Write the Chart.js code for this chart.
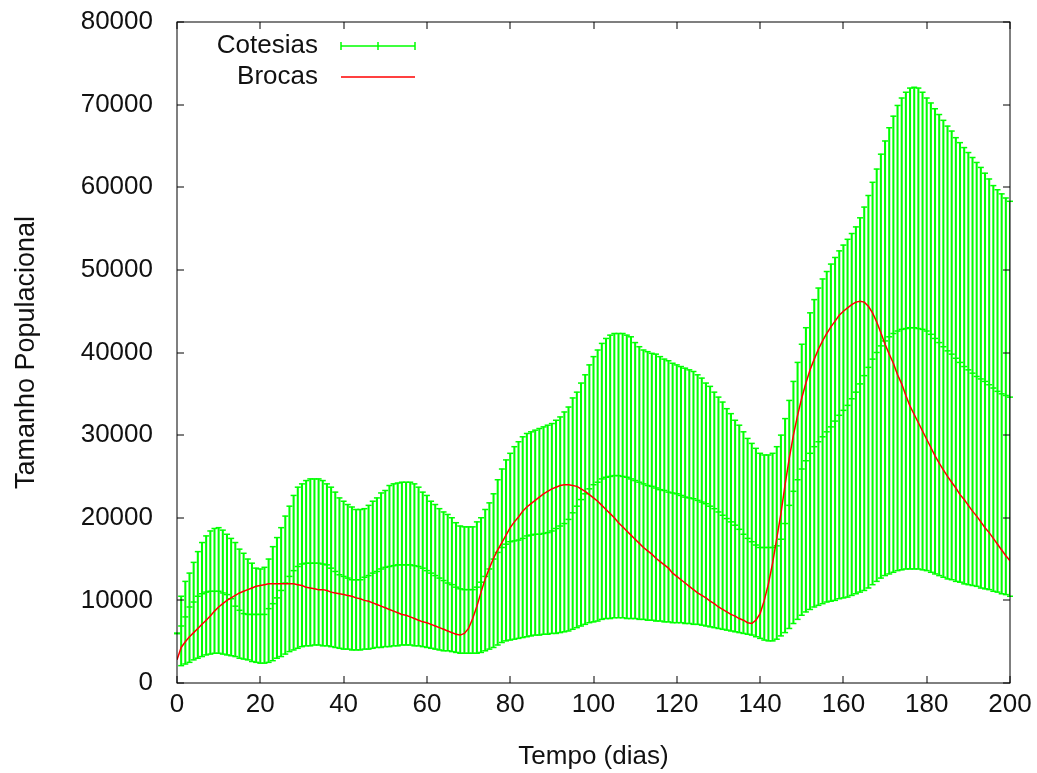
<!DOCTYPE html>
<html>
<head>
<meta charset="utf-8">
<script src="https://cdn.jsdelivr.net/npm/chart.js@4.4.1/dist/chart.umd.min.js"></script>
<style>
  html, body { margin: 0; padding: 0; background: #ffffff; }
  #c { display: block; }
</style>
</head>
<body>
<canvas id="c" width="1037" height="773"></canvas>
<script>
// ---- DATA (values in thousands of individuals, one entry per day 0..200) ----
const days = Array.from({ length: 201 }, (_, i) => i);

const yTicks = [0, 10000, 20000, 30000, 40000, 50000, 60000, 70000, 80000];
const xTicks = [0, 20, 40, 60, 80, 100, 120, 140, 160, 180, 200];

const cotesiasUpper = [
  6.0,
  10.5, 12.3, 13.3, 14.6, 15.9, 17.0, 17.8, 18.4, 18.7, 18.8,
  18.5, 18.0, 17.5, 17.0, 16.2, 15.7, 15.0, 14.5, 13.9, 13.8,
  14.0, 15.0, 16.5, 17.6, 18.8, 20.2, 21.4, 22.7, 23.7, 24.1,
  24.5, 24.7, 24.7, 24.7, 24.5, 24.1, 23.7, 23.1, 22.4, 22.0,
  21.6, 21.3, 21.0, 21.0, 21.1, 21.5, 22.0, 22.4, 23.0, 23.3,
  23.9, 24.1, 24.2, 24.3, 24.3, 24.3, 24.1, 23.7, 23.1, 22.7,
  22.0, 21.6, 21.1, 20.7, 20.4, 20.0, 19.4, 19.0, 18.9, 18.9,
  18.9, 19.5, 20.0, 21.0, 21.8, 22.9, 24.6, 25.9, 27.0, 27.8,
  28.6, 29.2, 29.8, 30.2, 30.4, 30.6, 30.8, 31.0, 31.2, 31.4,
  31.8, 32.2, 32.8, 33.4, 34.5, 35.2, 36.3, 37.3, 38.5, 39.5,
  40.3, 41.1, 41.7, 42.1, 42.3, 42.3, 42.3, 42.1, 41.9, 41.2,
  40.7, 40.3, 40.1, 39.9, 39.8, 39.5, 39.2, 39.0, 38.7, 38.5,
  38.3, 38.1, 37.9, 37.7, 37.3, 36.9, 36.3, 35.9, 35.2, 34.6,
  34.0, 33.2, 32.6, 31.8, 31.2, 30.4, 29.6, 29.0, 28.4, 27.8,
  27.6, 27.6, 27.8, 28.6, 30.0, 32.0, 34.2, 36.5, 38.8, 41.0,
  43.0, 44.8, 46.4, 47.8, 48.9, 49.8, 50.7, 51.5, 52.3, 53.0,
  53.7, 54.4, 55.2, 56.3, 57.6, 59.0, 60.6, 62.2, 64.0, 65.6,
  67.2, 68.6, 69.9, 70.8, 71.5, 72.0, 72.1, 72.0, 71.5, 70.8,
  70.2, 69.5, 68.8, 68.1, 67.4, 66.8, 66.0, 65.4, 64.8, 64.2,
  63.6, 63.0, 62.4, 61.7, 61.0, 60.2, 59.7, 59.2, 58.7, 58.3
];

const cotesiasMean = [
  6.0,
  6.9, 8.0, 9.2, 9.8, 10.5, 10.8, 11.0, 11.1, 11.1, 11.1,
  10.9, 10.7, 10.2, 9.3, 8.8, 8.4, 8.3, 8.3, 8.3, 8.3,
  8.3, 9.0, 9.6, 10.3, 11.2, 12.1, 12.9, 13.6, 14.1, 14.4,
  14.5, 14.5, 14.5, 14.5, 14.4, 14.3, 13.9, 13.5, 13.1, 12.9,
  12.7, 12.5, 12.5, 12.5, 12.8, 13.0, 13.3, 13.5, 13.8, 14.0,
  14.1, 14.2, 14.3, 14.3, 14.3, 14.3, 14.2, 14.1, 13.9, 13.6,
  13.3, 13.0, 12.7, 12.4, 12.1, 11.9, 11.6, 11.4, 11.3, 11.3,
  11.3, 11.6, 12.2, 12.9, 13.8, 15.0, 15.8, 16.4, 16.8, 17.1,
  17.2, 17.3, 17.5, 17.8, 17.9, 18.0, 18.0, 18.1, 18.2, 18.4,
  18.7, 19.0, 19.3, 19.8, 20.6, 21.4, 22.2, 22.9, 23.5, 24.0,
  24.3, 24.7, 24.9, 25.0, 25.1, 25.1, 25.0, 24.9, 24.7, 24.5,
  24.3, 24.1, 23.9, 23.8, 23.6, 23.4, 23.3, 23.1, 23.0, 22.9,
  22.7, 22.5, 22.4, 22.3, 22.1, 21.9, 21.7, 21.4, 21.1, 20.7,
  20.3, 19.9, 19.5, 19.1, 18.6, 18.0, 17.5, 17.1, 16.7, 16.4,
  16.4, 16.4, 16.4, 16.6, 17.4, 19.3, 21.5, 23.2, 24.6, 25.9,
  26.9, 27.8, 28.6, 29.2, 29.8, 30.4, 31.0, 31.7, 32.4, 33.0,
  33.6, 34.4, 35.2, 36.2, 37.2, 38.2, 39.2, 40.0, 40.8, 41.4,
  41.9, 42.3, 42.6, 42.8, 42.9, 43.0, 43.0, 42.9, 42.8, 42.6,
  42.2, 41.7, 41.2, 40.7, 40.2, 39.8, 39.3, 38.8, 38.3, 37.9,
  37.5, 37.1, 36.8, 36.5, 36.1, 35.7, 35.3, 35.0, 34.8, 34.6
];

const cotesiasLower = [
  6.0,
  2.1, 2.3, 2.5, 2.8, 3.0, 3.2, 3.4, 3.5, 3.6, 3.6,
  3.5, 3.4, 3.3, 3.2, 3.0, 2.9, 2.8, 2.6, 2.5, 2.4,
  2.4, 2.5, 2.7, 3.0, 3.2, 3.5, 3.8, 4.0, 4.2, 4.4,
  4.5, 4.5, 4.6, 4.6, 4.5, 4.5, 4.4, 4.3, 4.2, 4.1,
  4.1, 4.0, 4.0, 4.0, 4.1, 4.1, 4.2, 4.3, 4.3, 4.4,
  4.4, 4.5, 4.5, 4.6, 4.6, 4.6, 4.5, 4.5, 4.4, 4.3,
  4.2, 4.1, 4.0, 3.9, 3.9, 3.8, 3.7, 3.6, 3.6, 3.6,
  3.6, 3.6, 3.7, 3.9, 4.1, 4.3, 4.6, 4.9, 5.1, 5.2,
  5.3, 5.4, 5.5, 5.6, 5.7, 5.8, 5.8, 5.9, 5.9, 6.0,
  6.0, 6.1, 6.2, 6.3, 6.5, 6.7, 6.9, 7.1, 7.3, 7.4,
  7.5, 7.7, 7.8, 7.8, 7.9, 7.9, 7.9, 7.8, 7.8, 7.8,
  7.7, 7.7, 7.6, 7.6, 7.5, 7.5, 7.4, 7.4, 7.3, 7.3,
  7.3, 7.2, 7.2, 7.1, 7.1, 7.0, 6.9, 6.8, 6.7, 6.6,
  6.5, 6.4, 6.3, 6.2, 6.1, 6.0, 5.9, 5.8, 5.6, 5.4,
  5.2, 5.1, 5.1, 5.3, 5.7, 6.1, 6.6, 7.2, 7.7, 8.2,
  8.6, 8.9, 9.2, 9.4, 9.6, 9.8, 9.9, 10.0, 10.2, 10.3,
  10.4, 10.6, 10.8, 11.0, 11.2, 11.5, 11.9, 12.3, 12.7, 13.0,
  13.2, 13.4, 13.6, 13.7, 13.8, 13.8, 13.8, 13.8, 13.7, 13.6,
  13.4, 13.2, 13.0, 12.8, 12.6, 12.5, 12.3, 12.2, 12.0, 11.9,
  11.8, 11.7, 11.5, 11.4, 11.3, 11.1, 11.0, 10.8, 10.7, 10.5
];

const brocas = [
  2.8,
  4.3, 5.0, 5.6, 6.1, 6.6, 7.1, 7.6, 8.1, 8.7, 9.2,
  9.6, 10.0, 10.3, 10.6, 10.9, 11.1, 11.3, 11.5, 11.7, 11.8,
  11.9, 12.0, 12.0, 12.0, 12.0, 12.0, 12.0, 12.0, 11.9, 11.8,
  11.6, 11.5, 11.4, 11.3, 11.3, 11.2, 11.0, 10.9, 10.8, 10.7,
  10.6, 10.5, 10.3, 10.2, 10.0, 9.9, 9.7, 9.5, 9.3, 9.1,
  8.9, 8.7, 8.5, 8.3, 8.2, 8.0, 7.8, 7.6, 7.4, 7.3,
  7.1, 6.9, 6.7, 6.5, 6.3, 6.1, 5.9, 5.8, 6.0, 6.6,
  7.8, 9.3, 11.0, 12.6, 13.9, 15.1, 16.1, 17.0, 17.9, 18.8,
  19.5, 20.1, 20.8, 21.3, 21.7, 22.1, 22.5, 22.9, 23.2, 23.5,
  23.7, 23.9, 24.0, 24.0, 23.9, 23.8, 23.5, 23.2, 22.8, 22.4,
  22.0, 21.5, 21.0, 20.5, 20.0, 19.4, 18.9, 18.4, 17.9, 17.4,
  16.9, 16.4, 16.0, 15.6, 15.1, 14.7, 14.3, 13.9, 13.3, 12.9,
  12.5, 12.1, 11.7, 11.3, 10.9, 10.6, 10.3, 9.9, 9.6, 9.2,
  8.9, 8.6, 8.3, 8.1, 7.8, 7.6, 7.3, 7.2, 7.6, 8.4,
  10.0, 12.0, 14.5, 17.5, 20.5, 24.0, 27.2, 30.0, 32.4, 34.5,
  36.3, 37.9, 39.2, 40.4, 41.4, 42.3, 43.1, 43.8, 44.5, 45.0,
  45.4, 45.8, 46.1, 46.2, 46.1, 45.6, 44.8, 43.7, 42.4, 41.0,
  39.8, 38.7, 37.3, 36.2, 34.8, 33.5, 32.5, 31.5, 30.5, 29.5,
  28.5, 27.5, 26.6, 25.8, 25.0, 24.3, 23.6, 22.8, 22.2, 21.5,
  20.8, 20.2, 19.5, 18.8, 18.2, 17.5, 16.8, 16.1, 15.4, 14.8
];

const seriesNames = ['Cotesias', 'Brocas'];
const UNIT = 1000;

// ---- STYLE ----
const GREEN = '#00ff00';
const RED = '#ff0000';
const FONT = "'Liberation Sans', Arial, Helvetica, sans-serif";
const FS = 26;
const TICK = 7;

const pts = arr => arr.map((v, i) => ({ x: days[i], y: v * UNIT }));

const framePlugin = {
  id: 'frame',
  afterDatasetsDraw(chart) {
    const { ctx, chartArea: a, scales: { x, y } } = chart;
    ctx.save();
    ctx.strokeStyle = '#000';
    ctx.lineWidth = 1;
    ctx.strokeRect(Math.round(a.left), Math.round(a.top), Math.round(a.right - a.left), Math.round(a.bottom - a.top));
    ctx.beginPath();
    xTicks.forEach(v => {
      const px = Math.round(x.getPixelForValue(v));
      ctx.moveTo(px, a.bottom); ctx.lineTo(px, a.bottom - TICK);
      ctx.moveTo(px, a.top); ctx.lineTo(px, a.top + TICK);
    });
    yTicks.forEach(v => {
      const py = Math.round(y.getPixelForValue(v));
      ctx.moveTo(a.left, py); ctx.lineTo(a.left + TICK, py);
      ctx.moveTo(a.right, py); ctx.lineTo(a.right - TICK, py);
    });
    ctx.stroke();

    // key
    const textRight = 318, sx0 = 341, sx1 = 415;
    const y1 = 46, y2 = 77;
    ctx.font = FS + 'px ' + FONT;
    ctx.fillStyle = '#111';
    ctx.textAlign = 'right';
    ctx.textBaseline = 'middle';
    ctx.fillText(seriesNames[0], textRight, y1);
    ctx.fillText(seriesNames[1], textRight, y2);

    ctx.strokeStyle = GREEN;
    ctx.lineWidth = 1.5;
    ctx.beginPath();
    ctx.moveTo(sx0, y1); ctx.lineTo(sx1, y1);
    [sx0, (sx0 + sx1) / 2, sx1].forEach(px => { ctx.moveTo(px, y1 - 4); ctx.lineTo(px, y1 + 4); });
    ctx.stroke();

    ctx.strokeStyle = RED;
    ctx.lineWidth = 1.5;
    ctx.beginPath();
    ctx.moveTo(sx0, y2); ctx.lineTo(sx1, y2);
    ctx.stroke();
    ctx.restore();
  }
};

const capStyle = {
  type: 'scatter',
  pointStyle: 'line',
  pointRadius: 3,
  pointHoverRadius: 3,
  pointBorderWidth: 1.5,
  pointBorderColor: GREEN,
  pointBackgroundColor: GREEN,
  showLine: false,
  clip: false,
  order: 2
};

new Chart(document.getElementById('c'), {
  type: 'scatter',
  data: {
    datasets: [
      {
        type: 'line',
        label: seriesNames[1],
        data: pts(brocas),
        borderColor: RED,
        borderWidth: 1.5,
        pointRadius: 0,
        tension: 0,
        fill: false,
        order: 0
      },
      {
        type: 'bar',
        label: seriesNames[0],
        data: days.map((d, i) => ({ x: d, y: [cotesiasLower[i] * UNIT, cotesiasUpper[i] * UNIT] })),
        backgroundColor: GREEN,
        borderWidth: 0,
        barThickness: 1.4,
        grouped: false,
        order: 3
      },
      Object.assign({ label: 'upper', data: pts(cotesiasUpper) }, capStyle),
      Object.assign({ label: 'lower', data: pts(cotesiasLower) }, capStyle),
      Object.assign({ label: 'mean', data: pts(cotesiasMean) }, capStyle)
    ]
  },
  options: {
    responsive: false,
    devicePixelRatio: 1,
    animation: false,
    events: [],
    layout: { padding: { left: 0, right: 27, top: 22, bottom: 0 } },
    plugins: { legend: { display: false }, tooltip: { enabled: false } },
    scales: {
      x: {
        type: 'linear',
        min: 0, max: 200,
        offset: false,
        afterFit: s => { s.height = 90; s.paddingLeft = 0; s.paddingRight = 0; },
        afterBuildTicks: s => { s.ticks = xTicks.map(v => ({ value: v })); },
        grid: { display: false, drawTicks: false, offset: false },
        border: { display: false },
        ticks: { color: '#111', font: { family: FONT, size: FS }, padding: 6, maxRotation: 0, autoSkip: false },
        title: { display: true, text: 'Tempo (dias)', color: '#111', font: { family: FONT, size: FS }, padding: { top: 0, bottom: 1 } }
      },
      y: {
        type: 'linear',
        min: 0, max: 80000,
        afterFit: s => { s.width = 177; s.paddingTop = 0; s.paddingBottom = 0; },
        afterBuildTicks: s => { s.ticks = yTicks.map(v => ({ value: v })); },
        grid: { display: false, drawTicks: false },
        border: { display: false },
        ticks: { color: '#111', font: { family: FONT, size: FS }, padding: 24, callback: v => String(v) },
        title: { display: true, text: 'Tamanho Populacional', color: '#111', font: { family: FONT, size: 27 }, padding: { top: 10, bottom: 0 } }
      }
    }
  },
  plugins: [framePlugin]
});
</script>
</body>
</html>
